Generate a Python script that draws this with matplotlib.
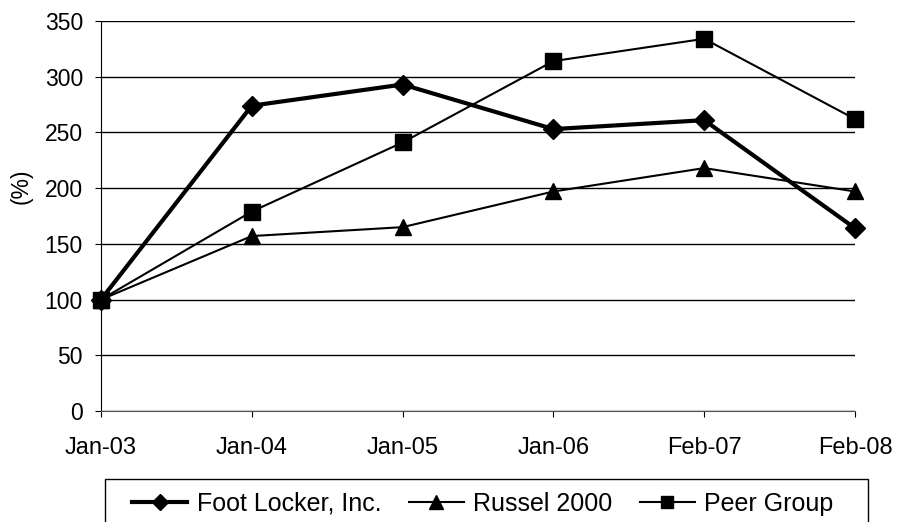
import matplotlib.pyplot as plt
from matplotlib.patches import Rectangle

plt.rcParams['font.family'] = ['Liberation Sans', 'DejaVu Sans']

# Data
dates = ["Jan-03", "Jan-04", "Jan-05", "Jan-06", "Feb-07", "Feb-08"]
foot_locker = [100, 274, 293, 253, 261, 164]
russel_2000 = [100, 157, 165, 197, 218, 197]
peer_group = [100, 179, 241, 314, 334, 262]

fig = plt.figure(figsize=(8.99, 5.22), dpi=100)
ax = fig.add_axes([0.1123, 0.2126, 0.8388, 0.7472])

x = range(len(dates))
ax.plot(x, foot_locker, color="black", lw=3, marker="D", ms=10, label="Foot Locker, Inc.", zorder=3, clip_on=False)
ax.plot(x, russel_2000, color="black", lw=1.5, marker="^", ms=12, label="Russel 2000", zorder=3, clip_on=False)
ax.plot(x, peer_group, color="black", lw=1.5, marker="s", ms=11, label="Peer Group", zorder=3, clip_on=False)

ax.set_xlim(0, len(dates) - 1)
ax.set_ylim(0, 350)
ax.set_yticks(range(0, 351, 50))
ax.set_xticks(list(x))
ax.set_xticklabels(dates)
ax.yaxis.grid(True, color="black", lw=1)
ax.set_axisbelow(True)
for s in ["top", "right"]:
    ax.spines[s].set_visible(False)
ax.spines["left"].set_color("black")
ax.spines["bottom"].set_color("#555555")
ax.tick_params(axis="both", direction="out", length=4, color="black")
ax.tick_params(axis="x", labelsize=17, pad=15)
ax.tick_params(axis="y", labelsize=16.5, pad=9)
ax.set_ylabel("(%)", fontsize=16.5)
ax.yaxis.set_label_coords(-0.091, 0.577)

# legend box (extends past the bottom edge)
fig.patches.append(Rectangle((105 / 899, -0.05), 763 / 899, 0.05 + 43 / 522,
                             transform=fig.transFigure, fill=False, edgecolor="black", lw=1))
leg = fig.legend(loc="center", bbox_to_anchor=(0.537, 0.035), ncol=3, fontsize=18,
                 frameon=False, handlelength=2.2, handletextpad=0.37, columnspacing=1.1,
                 markerscale=0.8)

fig.savefig("out.png", dpi=100)
